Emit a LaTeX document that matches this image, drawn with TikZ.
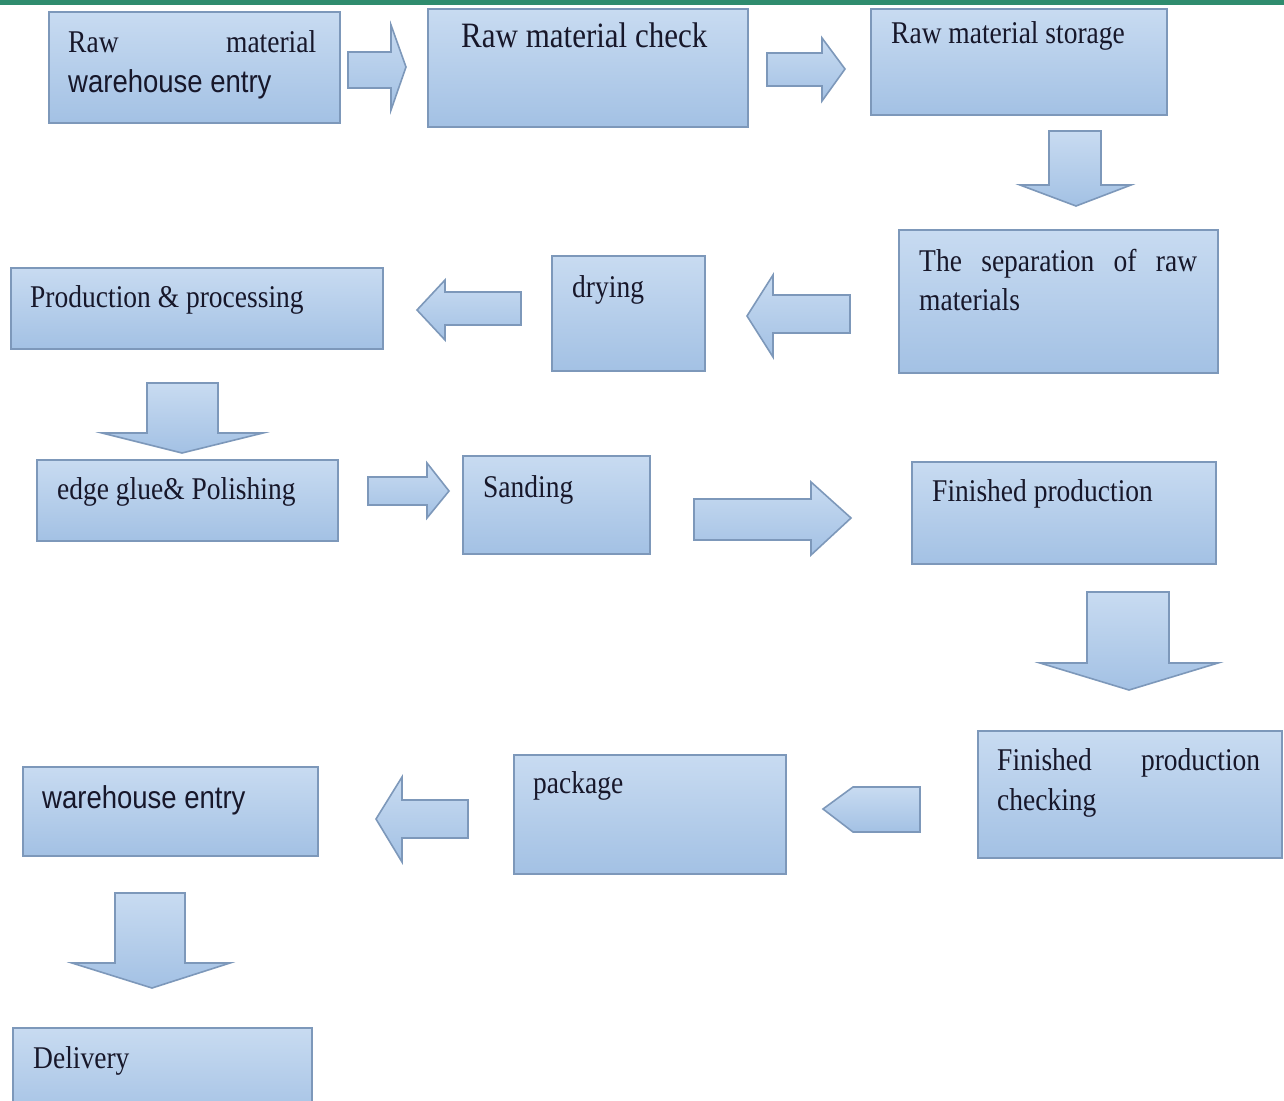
\documentclass[tikz,border=0pt]{standalone}
\usepackage{fontspec}
\setmainfont{Liberation Serif}
\newfontfamily\sansf{Liberation Sans}
\definecolor{boxtop}{HTML}{C8DBF1}
\definecolor{boxbot}{HTML}{A3C1E4}
\definecolor{bordc}{HTML}{7D98BA}
\definecolor{txtc}{HTML}{17172A}
\definecolor{barc}{HTML}{2F8C6E}
\newcommand{\vst}[1]{\scalebox{1}[1.15]{#1}}
\begin{document}
\begin{tikzpicture}[x=1pt,y=-1pt,
  box/.style={draw=bordc, line width=1.9pt, top color=boxtop, bottom color=boxbot,
    rectangle, inner sep=0pt, anchor=north west},
  barrow/.style={draw=bordc, line width=1.6pt, top color=boxtop, bottom color=boxbot, line join=miter},
  lbl/.style={anchor=base west, inner sep=0pt, text=txtc, font=\fontsize{27.5}{33}\selectfont},
  slbl/.style={lbl, font=\sansf\fontsize{27.5}{33}\selectfont}]
\clip (0,0) rectangle (1284,1100);
\fill[white] (0,0) rectangle (1284,1100);
% boxes
\node[box, minimum width=291pt, minimum height=111pt] (b1) at (48,11) {};
\node[box, minimum width=320pt, minimum height=118pt] (b2) at (427,8) {};
\node[box, minimum width=296pt, minimum height=106pt] (b3) at (870,8) {};
\node[box, minimum width=319pt, minimum height=143pt] (b4) at (898,229) {};
\node[box, minimum width=153pt, minimum height=115pt] (b5) at (551,255) {};
\node[box, minimum width=372pt, minimum height=81pt] (b6) at (10,267) {};
\node[box, minimum width=301pt, minimum height=81pt] (b7) at (36,459) {};
\node[box, minimum width=187pt, minimum height=98pt] (b8) at (462,455) {};
\node[box, minimum width=304pt, minimum height=102pt] (b9) at (911,461) {};
\node[box, minimum width=304pt, minimum height=127pt] (b10) at (977,730) {};
\node[box, minimum width=272pt, minimum height=119pt] (b11) at (513,754) {};
\node[box, minimum width=295pt, minimum height=89pt] (b12) at (22,766) {};
\node[box, minimum width=299pt, minimum height=95pt] (b13) at (12,1027) {};
% green bar
\fill[barc] (0,0) rectangle (1284,5);
% block arrows
\path[barrow] (348,52) -- (391,52) -- (391,25) -- (406,67) -- (391,110) -- (391,88) -- (348,88) -- cycle;
\path[barrow] (767,53) -- (822,53) -- (822,38) -- (845,69) -- (822,101) -- (822,86) -- (767,86) -- cycle;
\path[barrow] (1049,131) -- (1101,131) -- (1101,185) -- (1131,185) -- (1076,206) -- (1020,185) -- (1049,185) -- cycle;
\path[barrow] (850,295) -- (773,295) -- (773,275) -- (747,316) -- (773,357) -- (773,333) -- (850,333) -- cycle;
\path[barrow] (521,292) -- (445,292) -- (445,280) -- (417,310) -- (445,340) -- (445,325) -- (521,325) -- cycle;
\path[barrow] (147,383) -- (218,383) -- (218,433) -- (263,433) -- (182,453) -- (102,433) -- (147,433) -- cycle;
\path[barrow] (368,477) -- (427,477) -- (427,463) -- (449,491) -- (427,518) -- (427,505) -- (368,505) -- cycle;
\path[barrow] (694,499) -- (811,499) -- (811,482) -- (851,518) -- (811,555) -- (811,540) -- (694,540) -- cycle;
\path[barrow] (1087,592) -- (1169,592) -- (1169,663) -- (1218,663) -- (1129,690) -- (1040,663) -- (1087,663) -- cycle;
\path[barrow] (920,787) -- (853,787) -- (823,809) -- (853,832) -- (920,832) -- cycle;
\path[barrow] (468,800) -- (402,800) -- (402,777) -- (376,819) -- (402,862) -- (402,838) -- (468,838) -- cycle;
\path[barrow] (115,893) -- (185,893) -- (185,963) -- (230,963) -- (152,988) -- (72,963) -- (115,963) -- cycle;
% labels
\node[lbl] (t1a) at (68,52) {\vst{\makebox[248pt][s]{Raw material}}};
\node[slbl] (t1b) at (68,92) {\vst{warehouse entry}};
\node[lbl, font=\fontsize{31}{36}\selectfont] (t2) at (461,47) {\vst{Raw material check}};
\node[lbl] (t3) at (891,43) {\vst{Raw material storage}};
\node[lbl] (t4a) at (919,271) {\vst{\makebox[278pt][s]{The separation of raw}}};
\node[lbl] (t4b) at (919,310) {\vst{materials}};
\node[lbl] (t5) at (572,297) {\vst{drying}};
\node[lbl] (t6) at (30,307) {\vst{Production \& processing}};
\node[lbl] (t7) at (57,499) {\vst{edge glue\& Polishing}};
\node[lbl] (t8) at (483,497) {\vst{Sanding}};
\node[lbl] (t9) at (932,501) {\vst{Finished production}};
\node[lbl] (t10a) at (997,770) {\vst{\makebox[263pt][s]{Finished production}}};
\node[lbl] (t10b) at (997,810) {\vst{checking}};
\node[lbl] (t11) at (533,793) {\vst{package}};
\node[slbl] (t12) at (42,808) {\vst{warehouse entry}};
\node[lbl] (t13) at (33,1068) {\vst{Delivery}};
\end{tikzpicture}
\end{document}
